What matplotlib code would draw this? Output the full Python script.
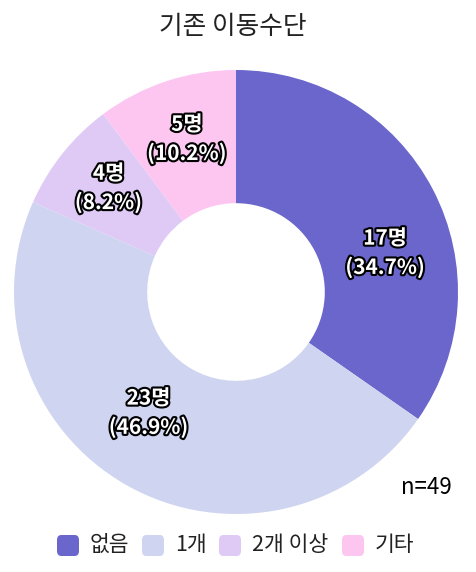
import numpy as np
import matplotlib.pyplot as plt
import matplotlib.patheffects as pe
from matplotlib.patches import FancyBboxPatch

plt.rcParams['font.family'] = ['Noto Sans CJK KR', 'DejaVu Sans']

TITLE = "기존 이동수단"
categories = ["없음", "1개", "2개 이상", "기타"]
counts = [17, 23, 4, 5]
colors = ["#6a66cb", "#cfd4f0", "#dfcaf5", "#fcc6f1"]

# where each slice label sits (degrees, fraction of radius)
label_angle = [14.7, 234.1, 140.8, 107.8]
label_radius = [0.694, 0.672, 0.741, 0.724]


def plotter():
    fig = plt.figure(figsize=(4.76, 5.72), dpi=100)
    W, H = 476, 572
    cx, cy, r = 236, 292, 222
    ax = fig.add_axes([(cx - r) / W, 1 - (cy + r) / H, 2 * r / W, 2 * r / H])
    total = sum(counts)

    ax.pie(counts, colors=colors, startangle=90, counterclock=False,
           radius=1.0, wedgeprops=dict(width=0.60, linewidth=0))
    for c, a, rr in zip(counts, label_angle, label_radius):
        ang = np.deg2rad(a)
        ax.text(rr * np.cos(ang), rr * np.sin(ang),
                f"{c}명\n({c / total * 100:.1f}%)",
                ha="center", va="center", fontsize=15, color="white",
                fontweight="bold", linespacing=1.45,
                path_effects=[pe.withStroke(linewidth=3, foreground="black")])
    ax.set_xlim(-1, 1)
    ax.set_ylim(-1, 1)
    ax.set_aspect("equal")
    ax.axis("off")

    fig.text(233 / W, 1 - 27 / H, TITLE, ha="center", va="center",
             fontsize=18.5, color="#222222")
    fig.text(452 / W, 1 - 487 / H, f"n={total}", ha="right", va="center",
             fontsize=16, color="black")

    # legend
    box_x = [57, 142, 219, 342]
    for x, lab, col in zip(box_x, categories, colors):
        fig.patches.append(FancyBboxPatch((x / W, 1 - 556 / H), 22 / W, 21 / H,
                                          boxstyle="round,pad=0,rounding_size=0.009",
                                          transform=fig.transFigure,
                                          facecolor=col, edgecolor="none"))
        fig.text((x + 33) / W, 1 - 545 / H, lab, ha="left", va="center",
                 fontsize=15.5, color="#222222")
    return fig


if __name__ == "__main__":
    plotter()
    plt.savefig("out.png", dpi=100)
